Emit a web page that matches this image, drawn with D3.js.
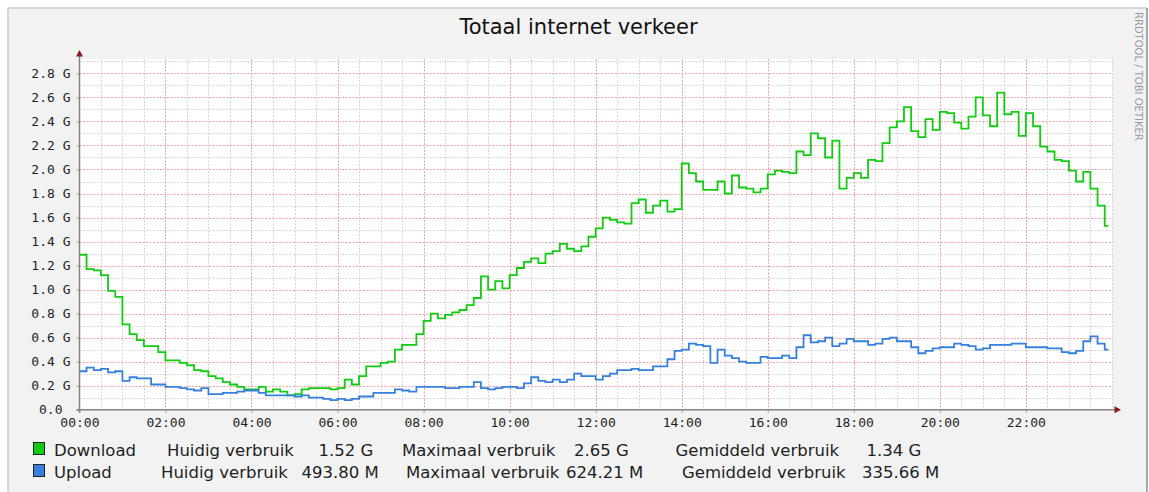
<!DOCTYPE html>
<html>
<head>
<meta charset="utf-8">
<script src="https://cdn.jsdelivr.net/npm/d3@7"></script>
<style>
  html, body { margin: 0; padding: 0; background: #ffffff; }
  svg text { font-family: "DejaVu Sans", sans-serif; }
</style>
</head>
<body>
<div id="chart"></div>
<script>
// Totaal internet verkeer - rrdtool-like graph, one value per 10 minutes (in G)
const stepMinutes = 10;
const endMinute = 1435; // last sample ends at 23:55

const download = [
  1.29, 1.17, 1.16, 1.12, 0.99, 0.94, 0.71, 0.63, 0.58, 0.53, 0.53, 0.48,
  0.41, 0.41, 0.39, 0.37, 0.33, 0.32, 0.28, 0.26, 0.23, 0.21, 0.19, 0.17,
  0.17, 0.19, 0.15, 0.17, 0.15, 0.12, 0.13, 0.17, 0.18, 0.18, 0.18, 0.17,
  0.18, 0.25, 0.21, 0.28, 0.36, 0.36, 0.39, 0.40, 0.50, 0.54, 0.54, 0.63,
  0.74, 0.80, 0.76, 0.79, 0.81, 0.83, 0.87, 0.93, 1.11, 1.00, 1.07, 1.01,
  1.12, 1.18, 1.23, 1.26, 1.22, 1.30, 1.32, 1.38, 1.34, 1.32, 1.36, 1.44,
  1.51, 1.60, 1.58, 1.56, 1.55, 1.72, 1.75, 1.64, 1.70, 1.74, 1.65, 1.67,
  2.05, 1.97, 1.90, 1.83, 1.83, 1.90, 1.80, 1.95, 1.85, 1.84, 1.81, 1.84,
  1.96, 1.99, 1.98, 1.97, 2.15, 2.12, 2.30, 2.26, 2.10, 2.24, 1.84, 1.93,
  1.97, 1.93, 2.08, 2.07, 2.22, 2.35, 2.40, 2.52, 2.32, 2.27, 2.42, 2.33,
  2.48, 2.47, 2.39, 2.34, 2.44, 2.60, 2.45, 2.36, 2.64, 2.46, 2.48, 2.28,
  2.47, 2.36, 2.19, 2.15, 2.08, 2.07, 1.99, 1.90, 1.98, 1.84, 1.70, 1.53
];

const upload = [
  0.32, 0.35, 0.33, 0.34, 0.31, 0.32, 0.24, 0.27, 0.26, 0.26, 0.21, 0.21,
  0.19, 0.19, 0.18, 0.17, 0.16, 0.18, 0.13, 0.13, 0.14, 0.14, 0.15, 0.16,
  0.16, 0.14, 0.12, 0.12, 0.12, 0.12, 0.11, 0.12, 0.10, 0.10, 0.09, 0.08,
  0.09, 0.08, 0.09, 0.11, 0.11, 0.14, 0.14, 0.14, 0.17, 0.16, 0.15, 0.19,
  0.19, 0.19, 0.19, 0.18, 0.18, 0.19, 0.19, 0.23, 0.18, 0.17, 0.18, 0.19,
  0.19, 0.18, 0.22, 0.27, 0.24, 0.23, 0.25, 0.23, 0.25, 0.30, 0.28, 0.28,
  0.25, 0.28, 0.30, 0.33, 0.33, 0.34, 0.33, 0.33, 0.36, 0.36, 0.42, 0.49,
  0.50, 0.55, 0.54, 0.53, 0.39, 0.50, 0.45, 0.43, 0.40, 0.39, 0.39, 0.44,
  0.43, 0.43, 0.45, 0.43, 0.52, 0.62, 0.56, 0.57, 0.60, 0.53, 0.55, 0.59,
  0.57, 0.57, 0.54, 0.55, 0.59, 0.60, 0.57, 0.57, 0.52, 0.47, 0.49, 0.51,
  0.52, 0.52, 0.55, 0.54, 0.53, 0.50, 0.51, 0.54, 0.54, 0.54, 0.55, 0.55,
  0.52, 0.52, 0.52, 0.51, 0.51, 0.48, 0.47, 0.49, 0.57, 0.61, 0.55, 0.50
];

const xTickMinutes = [0, 120, 240, 360, 480, 600, 720, 840, 960, 1080, 1200, 1320];
const xTickLabels = ["00:00", "02:00", "04:00", "06:00", "08:00", "10:00",
                     "12:00", "14:00", "16:00", "18:00", "20:00", "22:00"];
const yTickValues = [0, 0.2, 0.4, 0.6, 0.8, 1.0, 1.2, 1.4, 1.6, 1.8, 2.0, 2.2, 2.4, 2.6, 2.8];
const yTickLabels = ["0.0", "0.2 G", "0.4 G", "0.6 G", "0.8 G", "1.0 G", "1.2 G", "1.4 G",
                     "1.6 G", "1.8 G", "2.0 G", "2.2 G", "2.4 G", "2.6 G", "2.8 G"];

const seriesNames = ["Download", "Upload"];
const seriesColors = ["#11cc11", "#3580dd"];
const currentLabels = ["1.52 G", "493.80 M"];
const maxLabels = ["2.65 G", "624.21 M"];
const avgLabels = ["1.34 G", "335.66 M"];

drawChart();

function drawChart() {
    const W = 1149, H = 492;
    const plot = {left: 79.5, right: 1112.5, top: 59, bottom: 409.7};

    const svg = d3.select("#chart").append("svg")
        .attr("width", W)
        .attr("height", H);

    // frame
    svg.append("rect")
        .attr("x", 8).attr("y", 8)
        .attr("width", 1139).attr("height", 490)
        .attr("fill", "#f2f2f2");
    svg.append("line").attr("x1", 8).attr("x2", 8).attr("y1", 8).attr("y2", H)
        .attr("stroke", "#cbcbcb").attr("stroke-width", 1.5);
    svg.append("line").attr("x1", 8).attr("x2", 1147).attr("y1", 8).attr("y2", 8)
        .attr("stroke", "#cbcbcb").attr("stroke-width", 1.5);
    svg.append("line").attr("x1", 1147).attr("x2", 1147).attr("y1", 8).attr("y2", H)
        .attr("stroke", "#a9a9a9").attr("stroke-width", 2);

    // plot background
    svg.append("rect")
        .attr("x", plot.left).attr("y", plot.top)
        .attr("width", plot.right - plot.left).attr("height", plot.bottom - plot.top)
        .attr("fill", "#ffffff");

    const x = d3.scaleLinear().domain([0, 1440]).range([79.4, 1111.9]);
    const y = d3.scaleLinear().domain([0, 2.92]).range([plot.bottom, plot.top]);

    // minor grid
    const g = svg.append("g");
    g.selectAll(".vminor")
        .data(d3.range(30, 1441, 30))
        .enter().append("line")
        .attr("x1", d => Math.round(x(d)) + 0.5).attr("x2", d => Math.round(x(d)) + 0.5)
        .attr("y1", plot.top).attr("y2", plot.bottom)
        .attr("stroke", "#d4d4d4").attr("stroke-dasharray", "2,1.5");
    g.selectAll(".hminor")
        .data(d3.range(0.1, 2.95, 0.2))
        .enter().append("line")
        .attr("x1", plot.left).attr("x2", plot.right)
        .attr("y1", d => Math.round(y(d)) + 0.5).attr("y2", d => Math.round(y(d)) + 0.5)
        .attr("stroke", "#d4d4d4").attr("stroke-dasharray", "2,1.5");

    // major grid
    g.selectAll(".vmajor")
        .data(xTickMinutes.slice(1))
        .enter().append("line")
        .attr("x1", d => Math.round(x(d)) + 0.5).attr("x2", d => Math.round(x(d)) + 0.5)
        .attr("y1", plot.top).attr("y2", plot.bottom)
        .attr("stroke", "#f2a3a3").attr("stroke-dasharray", "2,1.5");
    g.selectAll(".hmajor")
        .data(yTickValues.slice(1))
        .enter().append("line")
        .attr("x1", plot.left).attr("x2", plot.right)
        .attr("y1", d => Math.round(y(d)) + 0.5).attr("y2", d => Math.round(y(d)) + 0.5)
        .attr("stroke", "#f2a3a3").attr("stroke-dasharray", "2,1.5");

    // axes (labels + small ticks)
    const yAxis = d3.axisLeft(y)
        .tickValues(yTickValues)
        .tickSize(3)
        .tickPadding(6)
        .tickFormat((d, i) => yTickLabels[i]);
    const ya = svg.append("g")
        .attr("transform", `translate(${plot.left},0)`)
        .call(yAxis);
    ya.select(".domain").remove();
    ya.selectAll("line").attr("stroke", "#999");
    ya.selectAll("text")
        .style("font-family", "'DejaVu Sans Mono', monospace")
        .style("font-size", "13px")
        .attr("fill", "#1e1e1e")
        .attr("x", (d, i) => i === 0 ? -17 : -9);

    const xAxis = d3.axisBottom(x)
        .tickValues(xTickMinutes)
        .tickSize(3)
        .tickPadding(5)
        .tickFormat((d, i) => xTickLabels[i]);
    const xa = svg.append("g")
        .attr("transform", `translate(0,${plot.bottom})`)
        .call(xAxis);
    xa.select(".domain").remove();
    xa.selectAll("line").attr("stroke", "#999");
    xa.selectAll("text")
        .style("font-family", "'DejaVu Sans Mono', monospace")
        .style("font-size", "13px")
        .attr("fill", "#1e1e1e");

    // series lines
    const line = d3.line()
        .x(d => x(d[0]))
        .y(d => y(d[1]))
        .curve(d3.curveStepAfter);

    [download, upload].forEach((vals, k) => {
        const pts = vals.map((v, i) => [i * stepMinutes, v]);
        pts.push([endMinute, vals[vals.length - 1]]);
        svg.append("path")
            .datum(pts)
            .attr("fill", "none")
            .attr("stroke", seriesColors[k])
            .attr("stroke-width", 1.8)
            .attr("stroke-linejoin", "miter")
            .attr("d", line);
    });

    // axis lines with arrows
    svg.append("line")
        .attr("x1", plot.left).attr("x2", plot.left)
        .attr("y1", plot.bottom + 3).attr("y2", 55)
        .attr("stroke", "#8a8080").attr("stroke-width", 1.5);
    svg.append("line")
        .attr("x1", plot.left - 3).attr("x2", 1116)
        .attr("y1", plot.bottom).attr("y2", plot.bottom)
        .attr("stroke", "#8a8080").attr("stroke-width", 1.5);
    svg.append("path")
        .attr("d", `M${plot.left - 3.5},56.5 L${plot.left},50 L${plot.left + 3.5},56.5 Z`)
        .attr("fill", "#8b1a1a");
    svg.append("path")
        .attr("d", `M1114.5,${plot.bottom - 3.5} L1121,${plot.bottom} L1114.5,${plot.bottom + 3.5} Z`)
        .attr("fill", "#8b1a1a");

    // title
    svg.append("text")
        .attr("x", 578.5).attr("y", 34)
        .attr("text-anchor", "middle")
        .style("font-size", "21px")
        .attr("fill", "#111")
        .text("Totaal internet verkeer");

    // watermark
    svg.append("text")
        .attr("transform", "translate(1135,12) rotate(90)")
        .style("font-size", "10px")
        .attr("fill", "#9a9a9a")
        .text("RRDTOOL / TOBI OETIKER");

    // legend
    const rows = [456, 478];
    const cols = [
        [54, 167, 318.5, 402, 574, 675.5, 866.5],
        [54, 161, 301.5, 406, 566, 682, 862]
    ];
    seriesNames.forEach((name, k) => {
        const by = rows[k];
        svg.append("rect")
            .attr("x", 33.5).attr("y", by - 13.5)
            .attr("width", 11).attr("height", 12)
            .attr("fill", seriesColors[k])
            .attr("stroke", "#222").attr("stroke-width", 1);
        const texts = [name, "Huidig verbruik", currentLabels[k], "Maximaal verbruik",
                       maxLabels[k], "Gemiddeld verbruik", avgLabels[k]];
        texts.forEach((t, j) => {
            svg.append("text")
                .attr("x", cols[k][j]).attr("y", by)
                .style("font-size", "16.5px")
                .attr("fill", "#1e1e1e")
                .text(t);
        });
    });
}
</script>
</body>
</html>
